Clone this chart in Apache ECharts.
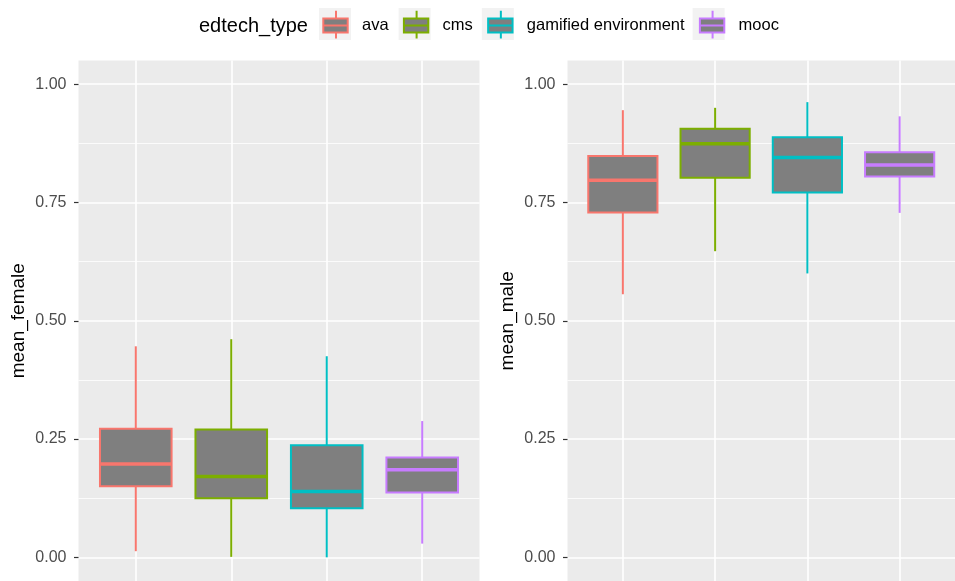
<!DOCTYPE html>
<html>
<head>
<meta charset="utf-8">
<script src="https://cdn.jsdelivr.net/npm/echarts@6/dist/echarts.min.js"></script>
<style>
  html, body { margin: 0; padding: 0; background: #fff; }
  #chart { width: 955px; height: 581px; }
</style>
</head>
<body>
<div id="chart"></div>
<script>
// edtech types, in legend / x order
const categories = ["ava", "cms", "gamified environment", "mooc"];
const xPositions = [1, 2, 3, 4];
const colors = ["#F8766D", "#7CAE00", "#00BFC4", "#C77CFF"];

// each row: [whisker low, Q1, median, Q3, whisker high]
const femaleStats = [
  [0.013, 0.150, 0.197, 0.272, 0.446],
  [0.001, 0.125, 0.171, 0.270, 0.461],
  [0.000, 0.104, 0.139, 0.237, 0.425],
  [0.029, 0.137, 0.185, 0.211, 0.288],
];
const maleStats = [
  [0.556, 0.729, 0.797, 0.848, 0.945],
  [0.647, 0.802, 0.874, 0.906, 0.950],
  [0.600, 0.771, 0.845, 0.888, 0.962],
  [0.728, 0.805, 0.829, 0.856, 0.932],
];

const yTicks = [0, 0.25, 0.5, 0.75, 1];
const yMinorTicks = [0.125, 0.375, 0.625, 0.875];

const font = "'Liberation Sans', Arial, sans-serif";
const keyPath =
  "path://M0 0 M32 32 M16 1.7 L16 9.4 M3.3 9.4 L27.7 9.4 L27.7 23.4 L3.3 23.4 Z " +
  "M3.3 16.4 L27.7 16.4 M16 23.4 L16 29.4";

function renderBox(params, api) {
  const x = api.value(0);
  const lo = api.coord([x, api.value(1)]);
  const q1 = api.coord([x, api.value(2)]);
  const med = api.coord([x, api.value(3)]);
  const q3 = api.coord([x, api.value(4)]);
  const hi = api.coord([x, api.value(5)]);
  const w = api.size([0.75, 0])[0];
  const color = api.visual("color");
  return {
    type: "group",
    children: [
      {
        type: "line",
        shape: { x1: lo[0], y1: lo[1], x2: hi[0], y2: hi[1] },
        style: { stroke: color, lineWidth: 2 },
      },
      {
        type: "rect",
        shape: { x: q3[0] - w / 2, y: q3[1], width: w, height: q1[1] - q3[1] },
        style: { fill: "#7F7F7F", stroke: color, lineWidth: 2 },
      },
      {
        type: "line",
        shape: { x1: med[0] - w / 2, y1: med[1], x2: med[0] + w / 2, y2: med[1] },
        style: { stroke: color, lineWidth: 3.5 },
      },
    ],
  };
}

function makeSeries(stats, axisIndex) {
  return categories.map((name, i) => ({
    name: name,
    type: "custom",
    xAxisIndex: axisIndex,
    yAxisIndex: axisIndex * 2,
    itemStyle: { color: colors[i] },
    encode: { x: 0, y: [1, 2, 3, 4, 5] },
    renderItem: renderBox,
    data: [[xPositions[i]].concat(stats[i])],
  }));
}

function xAxisFor(gridIndex) {
  return {
    type: "value",
    gridIndex: gridIndex,
    min: 0.4,
    max: 4.6,
    axisLine: { show: false },
    axisLabel: { show: false },
    axisTick: { show: false, customValues: xPositions },
    splitLine: { show: true, lineStyle: { color: "#FFFFFF", width: 1.6 } },
  };
}

function yAxesFor(gridIndex, title) {
  return [
    {
      type: "value",
      gridIndex: gridIndex,
      min: -0.05,
      max: 1.05,
      name: title,
      nameLocation: "middle",
      nameGap: 50,
      nameTextStyle: { fontFamily: font, fontSize: 19, color: "#000" },
      axisLine: { show: false },
      axisTick: {
        show: true,
        length: 4.5,
        customValues: yTicks,
        lineStyle: { color: "#333333", width: 1.2 },
      },
      axisLabel: {
        customValues: yTicks,
        margin: 12,
        fontFamily: font,
        fontSize: 16,
        color: "#4D4D4D",
        formatter: (v) => v.toFixed(2),
      },
      splitLine: { show: true, lineStyle: { color: "#FFFFFF", width: 1.6 } },
    },
    {
      type: "value",
      gridIndex: gridIndex,
      min: -0.05,
      max: 1.05,
      axisLine: { show: false },
      axisLabel: { show: false },
      axisTick: { show: false, customValues: yMinorTicks },
      splitLine: { show: true, lineStyle: { color: "#FFFFFF", width: 0.8 } },
    },
  ];
}

const option = {
  animation: false,
  backgroundColor: "#FFFFFF",
  title: {
    text: "edtech_type",
    left: 199,
    top: 16,
    padding: 0,
    textStyle: { fontFamily: font, fontSize: 20, fontWeight: "normal", color: "#000" },
  },
  legend: [
    {
      // grey key backgrounds
      left: 319,
      top: 8,
      padding: 0,
      z: 3,
      itemWidth: 32,
      itemHeight: 32,
      itemGap: 11,
      selectedMode: false,
      icon: "rect",
      itemStyle: { color: "#F2F2F2", borderWidth: 0 },
      textStyle: { fontFamily: font, fontSize: 16.5, color: "rgba(0,0,0,0)", padding: [4, 0, 0, 5] },
      data: categories,
    },
    {
      left: 319,
      top: 8,
      padding: 0,
      z: 4,
      itemWidth: 32,
      itemHeight: 32,
      itemGap: 11,
      selectedMode: false,
      textStyle: { fontFamily: font, fontSize: 16.5, color: "#000", padding: [4, 0, 0, 5] },
      data: categories.map((name, i) => ({
        name: name,
        icon: keyPath,
        itemStyle: { color: "#7F7F7F", borderColor: colors[i], borderWidth: 2 },
      })),
    },
  ],
  grid: [
    { left: 78.5, top: 60.5, width: 401, height: 524, show: true, backgroundColor: "#EBEBEB", borderWidth: 0 },
    { left: 567.5, top: 60.5, width: 401, height: 524, show: true, backgroundColor: "#EBEBEB", borderWidth: 0 },
  ],
  xAxis: [xAxisFor(0), xAxisFor(1)],
  yAxis: yAxesFor(0, "mean_female").concat(yAxesFor(1, "mean_male")),
  series: makeSeries(femaleStats, 0).concat(makeSeries(maleStats, 1)),
};

const chart = echarts.init(document.getElementById("chart"));
chart.setOption(option);
</script>
</body>
</html>
